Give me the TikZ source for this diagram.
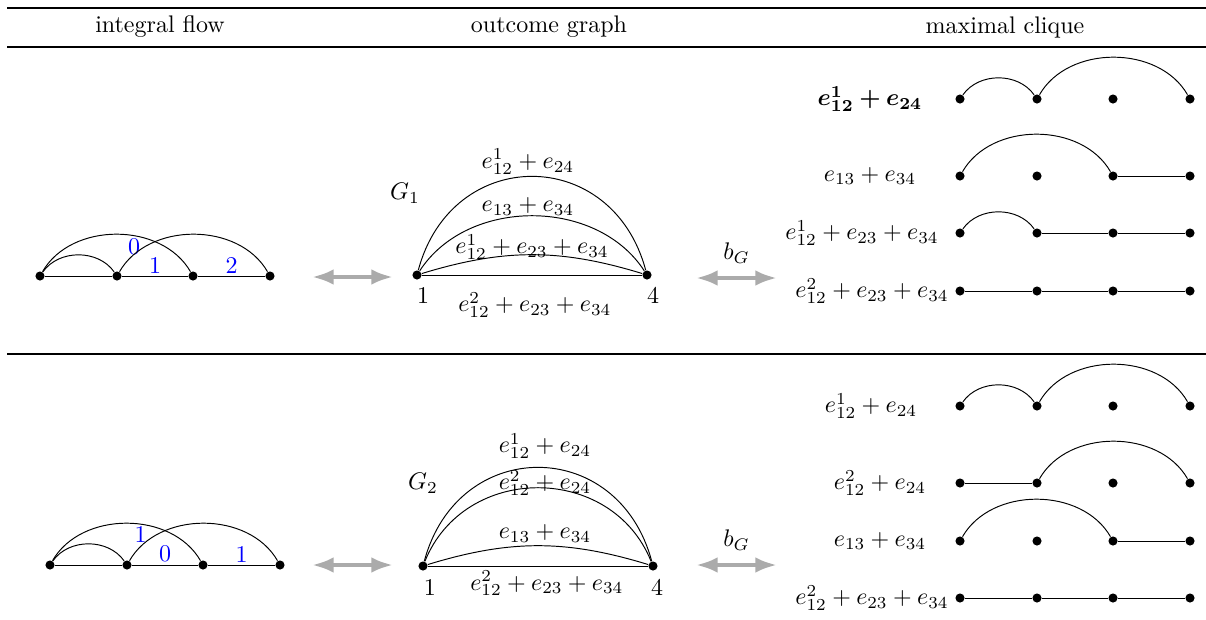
\documentclass[tikz,border=0pt]{standalone}
\usepackage{amsmath,amssymb,bm}
\usepackage{tikz}
\usetikzlibrary{positioning,arrows.meta}

\begin{document}
\begin{tikzpicture}[
  x=0.41667pt, y=-0.41667pt,
  dot/.style={circle, fill, inner sep=0pt, minimum size=3.8pt},
  lab/.style={inner sep=1pt, anchor=base},
  wt/.style={text=blue, inner sep=1pt},
  rule/.style={line width=1.1pt},
  arr/.style={<->, >={Latex[length=9pt,width=6.5pt]}, line width=1.7pt, draw=black!33}
]
\useasboundingbox (0,0) rectangle (1206,619);

% table rules and headers
\draw[rule] (7,8) -- (1206,8);
\draw[rule] (7,47) -- (1206,47);
\draw[rule] (7,354) -- (1206,354);
\node (h1) at (160,27) {integral flow};
\node (h2) at (549,27) {outcome graph};
\node (h3) at (1005,27) {maximal clique};

% integral flows
\node[dot] (fa1) at (40,276) {};
\node[dot] (fa2) at (117,276) {};
\node[dot] (fa3) at (193,276) {};
\node[dot] (fa4) at (270,276) {};
\draw (fa1) -- (fa2);
\draw (fa2) -- node[wt, above] (wa1) {1} (fa3);
\draw (fa3) -- node[wt, above] (wa2) {2} (fa4);
\draw (fa1) to[bend left=55] (fa2);
\draw (fa1) to[bend left=60] node[wt, pos=0.6, below] (wa0) {0} (fa3);
\draw (fa2) to[bend left=60] (fa4);

\node[dot] (fb1) at (50,565) {};
\node[dot] (fb2) at (127,565) {};
\node[dot] (fb3) at (203,565) {};
\node[dot] (fb4) at (280,565) {};
\draw (fb1) -- (fb2);
\draw (fb2) -- node[wt, above] (wb0) {0} (fb3);
\draw (fb3) -- node[wt, above] (wb2) {1} (fb4);
\draw (fb1) to[bend left=55] (fb2);
\draw (fb1) to[bend left=60] node[wt, pos=0.58, below] (wb1) {1} (fb3);
\draw (fb2) to[bend left=60] (fb4);

% outcome graphs
\node[dot, label={[xshift=2.5pt]below:$1$}] (ga1) at (417,275) {};
\node[dot, label={[xshift=2.5pt]below:$4$}] (ga4) at (647,275) {};
\node (G1) at (405,193) {$G_1$};
\draw (ga1) to[out=75, in=105, looseness=1.46] node[lab, xshift=-1.7pt, yshift=3.3pt] (ea1) {$e^1_{12}+e_{24}$} (ga4);
\draw (ga1) to[bend left=57] node[lab, xshift=-1.7pt, yshift=1.7pt] (ea2) {$e_{13}+e_{34}$} (ga4);
\draw (ga1) to[bend left=17] node[lab, yshift=0.4pt] (ea3) {$e^1_{12}+e_{23}+e_{34}$} (ga4);
\draw (ga1) -- node[lab, xshift=1.2pt, yshift=-15.4pt] (ea4) {$e^2_{12}+e_{23}+e_{34}$} (ga4);

\node[dot, label={[xshift=2.9pt]below:$1$}] (gb1) at (423,566) {};
\node[dot, label={[xshift=1.7pt]below:$4$}] (gb4) at (653,566) {};
\node (G2) at (423,483) {$G_2$};
\draw (gb1) to[out=75, in=105, looseness=1.46] node[lab, xshift=2.9pt, yshift=6pt] (eb1) {$e^1_{12}+e_{24}$} (gb4);
\draw (gb1) to[out=68, in=112, looseness=1.2] node[lab, xshift=2.9pt, yshift=-0.9pt] (eb2) {$e^2_{12}+e_{24}$} (gb4);
\draw (gb1) to[bend left=17] node[lab, xshift=2.9pt, yshift=3pt] (eb3) {$e_{13}+e_{34}$} (gb4);
\draw (gb1) -- node[lab, xshift=3.7pt, yshift=-10pt] (eb4) {$e^2_{12}+e_{23}+e_{34}$} (gb4);

% bijections
\coordinate (pa1) at (312,277);
\coordinate (pa2) at (393,277);
\coordinate (qa1) at (696,278);
\coordinate (qa2) at (777,278);
\draw[arr] (pa1) -- (pa2);
\draw[arr] (qa1) -- node[above=2pt, text=black] (bGa) {$b_G$} (qa2);
\coordinate (pb1) at (312,565);
\coordinate (pb2) at (393,565);
\coordinate (qb1) at (696,565);
\coordinate (qb2) at (777,565);
\draw[arr] (pb1) -- (pb2);
\draw[arr] (qb1) -- node[above=2pt, text=black] (bGb) {$b_G$} (qb2);

% maximal cliques
\foreach \r/\yy in {1/99,2/176,3/233,4/291,5/406,6/483,7/541,8/598}
  \foreach \c/\xx in {1/960,2/1037,3/1113,4/1190}
    \node[dot] (c\r\c) at (\xx,\yy) {};

\node (k1) at (870,99) {$\bm{e^1_{12}+e_{24}}$};
\node (k2) at (870,176) {$e_{13}+e_{34}$};
\node (k3) at (862,233) {$e^1_{12}+e_{23}+e_{34}$};
\node (k4) at (872,291) {$e^2_{12}+e_{23}+e_{34}$};
\draw (c11) to[bend left=55] (c12);
\draw (c12) to[bend left=60] (c14);
\draw (c21) to[bend left=60] (c23);
\draw (c23) -- (c24);
\draw (c31) to[bend left=55] (c32);
\draw (c32) -- (c33) -- (c34);
\draw (c41) -- (c42) -- (c43) -- (c44);

\node (k5) at (871,406) {$e^1_{12}+e_{24}$};
\node (k6) at (880,483) {$e^2_{12}+e_{24}$};
\node (k7) at (880,541) {$e_{13}+e_{34}$};
\node (k8) at (872,598) {$e^2_{12}+e_{23}+e_{34}$};
\draw (c51) to[bend left=55] (c52);
\draw (c52) to[bend left=60] (c54);
\draw (c61) -- (c62);
\draw (c62) to[bend left=60] (c64);
\draw (c71) to[bend left=60] (c73);
\draw (c73) -- (c74);
\draw (c81) -- (c82) -- (c83) -- (c84);
\end{tikzpicture}
\end{document}
